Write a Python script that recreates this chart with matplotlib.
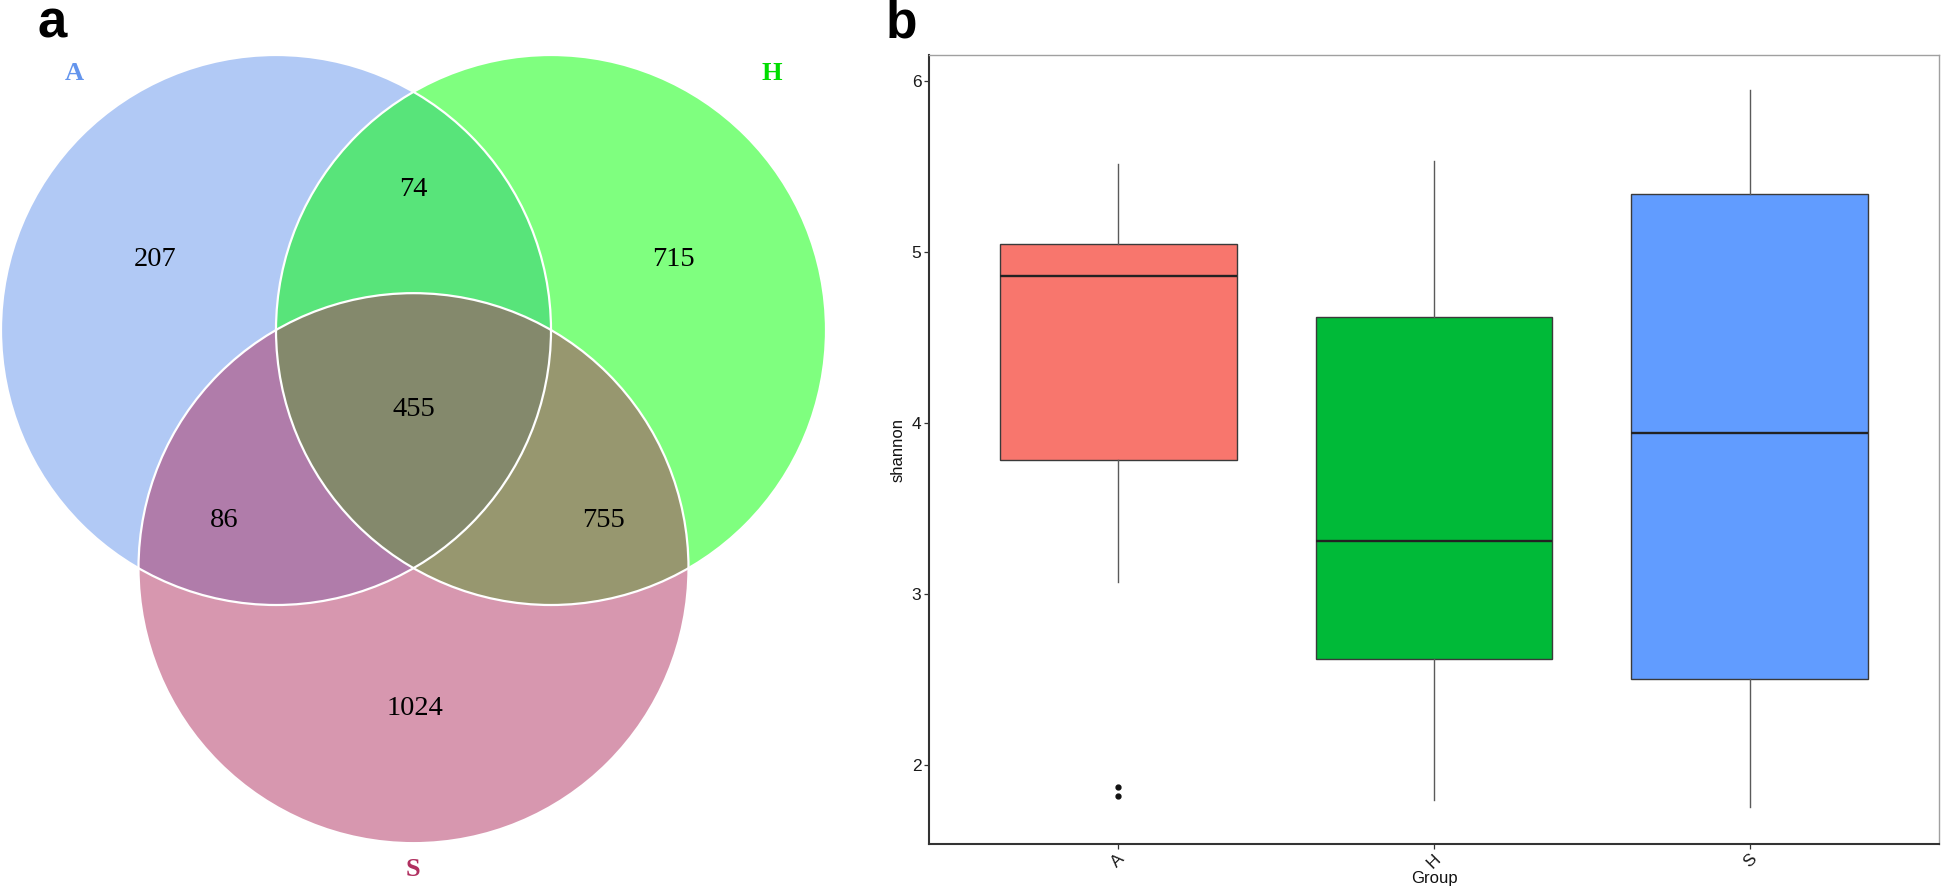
import numpy as np
import matplotlib
matplotlib.use("Agg")
import matplotlib.pyplot as plt
from matplotlib.patches import Circle
from matplotlib.colors import to_rgba

# ---------------- data ----------------
set_names = ["A", "H", "S"]
set_colors = ["#6495ED", "#00FF00", "#B03060"]       # cornflowerblue, green, maroon
label_colors = ["#6495ED", "#00DD00", "#B03060"]
region_names = ["A", "A&H", "H", "A&H&S", "A&S", "H&S", "S"]
region_counts = [207, 74, 715, 455, 86, 755, 1024]

groups = ["A", "H", "S"]
box_colors = ["#F8766D", "#00BA38", "#619CFF"]
whisker_low = [3.07, 1.79, 1.75]
q1_vals = [3.78, 2.62, 2.50]
median_vals = [4.86, 3.31, 3.94]
q3_vals = [5.045, 4.615, 5.335]
whisker_high = [5.51, 5.53, 5.945]
outliers = [[1.87, 1.815], [], []]

# ---------------- figure ----------------
W, H = 1943, 890
fig = plt.figure(figsize=(W / 100, H / 100), dpi=100)
fig.patch.set_facecolor("white")

# ---------------- Venn (panel a) ----------------
axv = fig.add_axes([0, 0, 900 / W, 1])
axv.set_xlim(0, 900)
axv.set_ylim(H, 0)
axv.axis("off")

r = 275.0
cA = np.array([276.0, 330.0])
cH = cA + np.array([r, 0.0])
cS = cA + np.array([r / 2, r * np.sqrt(3) / 2])
centers = [cA, cH, cS]
centroid = (cA + cH + cS) / 3

for c, col in zip(centers, set_colors):
    axv.add_patch(Circle(c, r, facecolor=to_rgba(col, 0.5), edgecolor="none", zorder=1))
for c in centers:
    axv.add_patch(Circle(c, r, facecolor="none", edgecolor="white", lw=1.6, zorder=2))

# region label positions (layout relative to the circle geometry)
pos = {
    "A": cA + np.array([-121, -70]),
    "H": cH + np.array([122, -70]),
    "S": cS + np.array([1.5, 140]),
    "A&H": (cA + cH) / 2 + np.array([0, -140]),
    "A&H&S": centroid,
    "A&S": (cA + cS) / 2 + np.array([-121, 71]),
    "H&S": (cH + cS) / 2 + np.array([121, 71]),
}
for name, cnt in zip(region_names, region_counts):
    x, y = pos[name]
    axv.text(x, y, str(cnt), ha="center", va="center", fontsize=20.5,
             family="Liberation Serif", color="black", zorder=3)

set_label_pos = [(74, 74), (772, 74), (413, 870)]
for nm, (x, y), col in zip(set_names, set_label_pos, label_colors):
    axv.text(x, y, nm, ha="center", va="center", fontsize=19, fontweight="bold",
             family="Liberation Serif", color=col, zorder=3)

# ---------------- Box plot (panel b) ----------------
left, right, top, bottom = 929, 1939, 55, 844
axb = fig.add_axes([left / W, (H - bottom) / H, (right - left) / W, (bottom - top) / H])

stats = []
for i, g in enumerate(groups):
    stats.append(dict(label=g, whislo=whisker_low[i], q1=q1_vals[i], med=median_vals[i],
                      q3=q3_vals[i], whishi=whisker_high[i], fliers=outliers[i]))
bp = axb.bxp(stats, positions=range(len(groups)), widths=0.75, patch_artist=True,
             showcaps=False, showfliers=True,
             boxprops=dict(edgecolor="#3a3a3a", linewidth=1.0),
             medianprops=dict(color="#222222", linewidth=1.7),
             whiskerprops=dict(color="#5a5a5a", linewidth=1.0),
             flierprops=dict(marker="o", markerfacecolor="#111111", markeredgecolor="#111111",
                             markersize=3.5, linestyle="none"))
for patch, col in zip(bp["boxes"], box_colors):
    patch.set_facecolor(col)

axb.set_xlim(-0.6, 2.6)
axb.set_ylim(1.535, 6.15)
axb.set_yticks([2, 3, 4, 5, 6])
axb.set_yticklabels(["2", "3", "4", "5", "6"])
axb.set_xticks(range(len(groups)))
axb.set_xticklabels(groups, rotation=45, ha="center", va="top")
for lab in axb.get_xticklabels() + axb.get_yticklabels():
    lab.set_family("Liberation Sans")
    lab.set_fontsize(12.5)
    lab.set_color("#1a1a1a")
axb.tick_params(axis="both", length=3.5, width=0.9, color="#333333", pad=2)

for s in ["left", "bottom"]:
    axb.spines[s].set_color("#333333")
    axb.spines[s].set_linewidth(1.5)
for s in ["top", "right"]:
    axb.spines[s].set_color("#a0a0a0")
    axb.spines[s].set_linewidth(1.0)

axb.set_ylabel("shannon", family="Liberation Sans", fontsize=12, labelpad=4, color="#111111")
axb.set_xlabel("Group", family="Liberation Sans", fontsize=12, labelpad=0, color="#111111")

# panel labels
fig.text(52 / W, 1 - 37 / H, "a", ha="center", va="baseline", fontsize=38,
         fontweight="bold", family="Liberation Sans")
fig.text(901 / W, 1 - 38 / H, "b", ha="center", va="baseline", fontsize=37,
         fontweight="bold", family="Liberation Sans")

fig.savefig("out.png", dpi=100, facecolor="white")
